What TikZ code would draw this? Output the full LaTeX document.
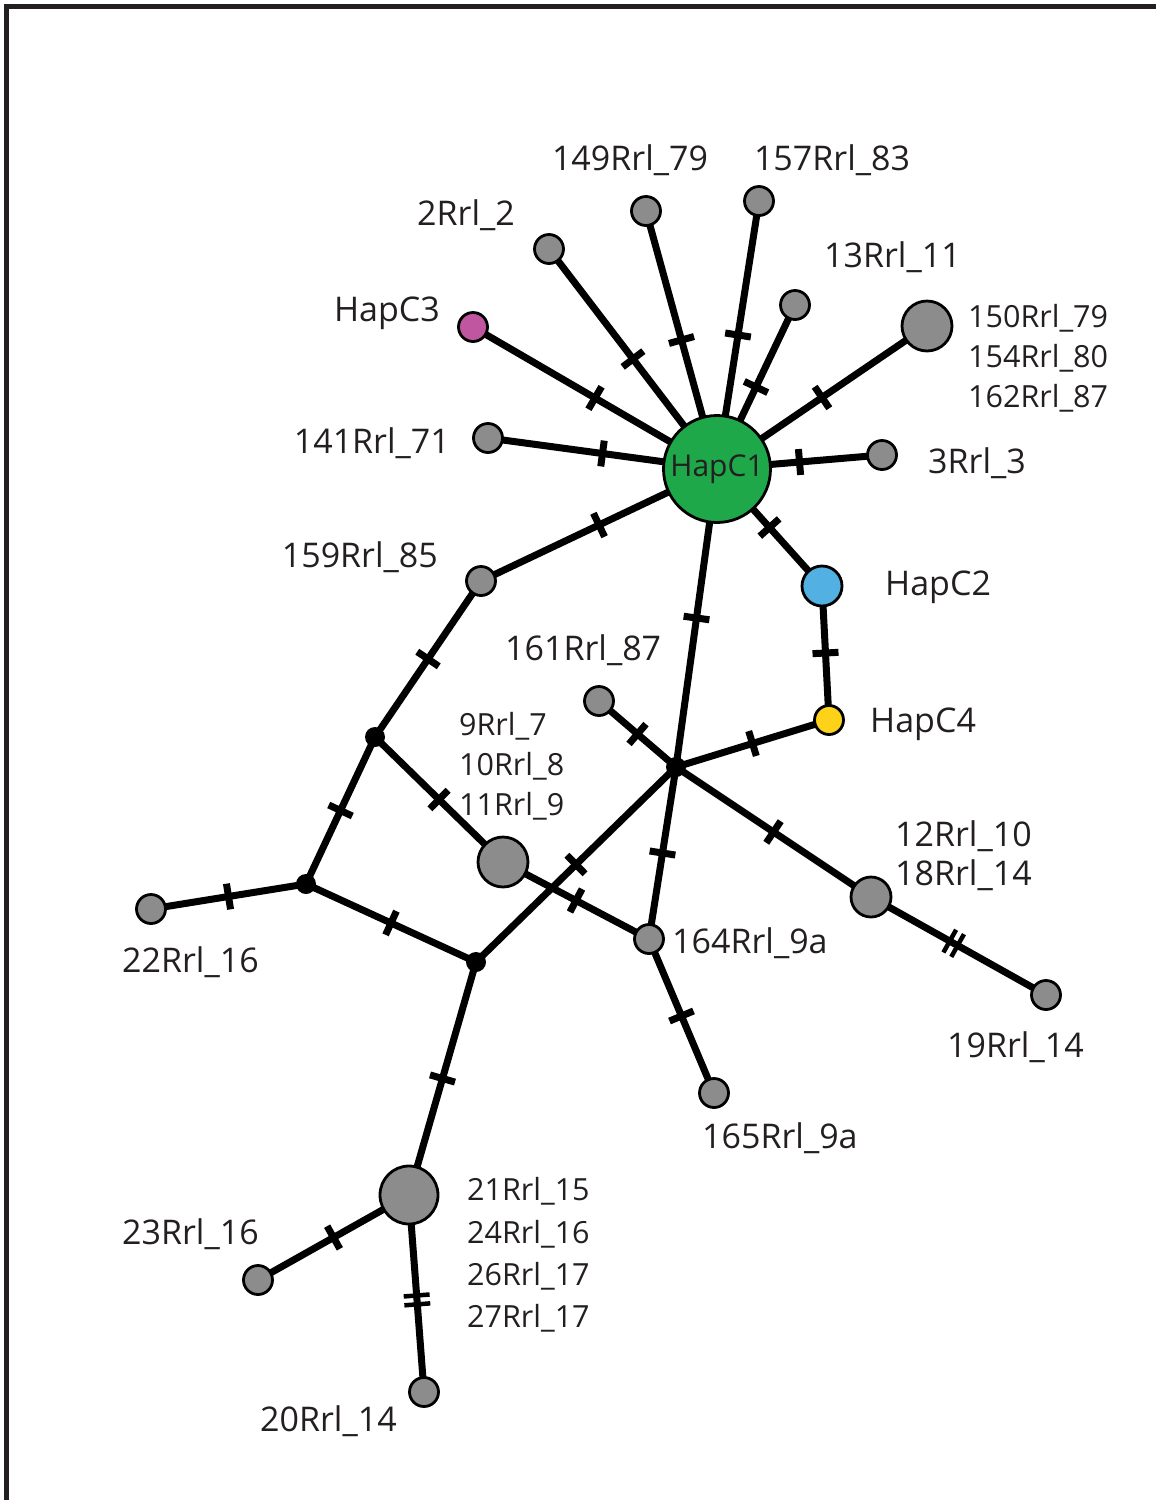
\documentclass[tikz,border=0pt]{standalone}
\usepackage{fontspec}
\setmainfont{Open Sans}
\usetikzlibrary{backgrounds}

\definecolor{hapgreen}{HTML}{1FA84A}
\definecolor{hapblue}{HTML}{52B0E2}
\definecolor{hapyellow}{HTML}{FFD21A}
\definecolor{hapmagenta}{HTML}{C0569F}
\definecolor{hapgray}{HTML}{8C8C8C}
\definecolor{ink}{HTML}{231F20}

\tikzset{
  hap/.style={circle, draw=black, line width=2.8pt, fill=#1, inner sep=0pt, minimum size=29pt},
  median/.style={circle, fill=black, inner sep=0pt, minimum size=20pt},
  link/.style={line width=7pt, draw=black},
  mutbar/.style={sloped, fill=black, inner sep=0pt, minimum width=7pt, minimum height=26pt},
  mutbarthin/.style={mutbar, minimum width=4.5pt},
  lbl/.style={font=\fontsize{34}{40}\selectfont, text=ink, inner sep=0pt},
  lblsm/.style={lbl, font=\fontsize{30.5}{36}\selectfont},
}

\begin{document}
\begin{tikzpicture}[x=1pt, y=-1pt]
\useasboundingbox (0,0) rectangle (1156,1500);
\draw[line width=5.5pt, ink, line join=miter] (6.5,1500) -- (6.5,6.5) -- (1156,6.5);

% haplotypes
\node[hap=hapgreen, minimum size=107pt, font=\fontsize{30}{36}\selectfont, text=ink] (hc1) at (717,469) {HapC1};
\node[hap=hapblue, minimum size=40pt] (hc2) at (822,586) {};
\node[hap=hapmagenta] (hc3) at (473,327) {};
\node[hap=hapyellow] (hc4) at (829,720) {};
\node[hap=hapgray] (n2) at (549,249) {};
\node[hap=hapgray] (n149) at (646,211) {};
\node[hap=hapgray] (n157) at (759,201) {};
\node[hap=hapgray] (n13) at (795,305) {};
\node[hap=hapgray, minimum size=50pt] (g150) at (927,326) {};
\node[hap=hapgray] (n141) at (488,438) {};
\node[hap=hapgray] (n3) at (882,455) {};
\node[hap=hapgray] (n159) at (481,581) {};
\node[hap=hapgray] (n161) at (599,701) {};
\node[hap=hapgray, minimum size=50pt] (g9) at (503,862) {};
\node[hap=hapgray] (n164) at (649,939) {};
\node[hap=hapgray, minimum size=40pt] (g12) at (871,897) {};
\node[hap=hapgray] (n19) at (1046,995) {};
\node[hap=hapgray] (n22) at (151,909) {};
\node[hap=hapgray] (n165) at (714,1093) {};
\node[hap=hapgray, minimum size=58pt] (g21) at (409,1195) {};
\node[hap=hapgray] (n23) at (258,1280) {};
\node[hap=hapgray] (n20) at (424,1392) {};

% median vectors
\node[median] (m1) at (375,737) {};
\node[median] (m2) at (676,767) {};
\node[median] (m3) at (306,884) {};
\node[median] (m4) at (476,962) {};

% links, one mutation each
\begin{scope}[on background layer]
\foreach \a/\b in {hc1/hc3, hc1/n2, hc1/n149, hc1/n157, hc1/n13, hc1/g150, hc1/n141,
    hc1/n3, hc1/n159, hc1/hc2, hc1/m2, hc2/hc4, hc4/m2, n161/m2, m2/g12, m2/m4,
    m2/n164, n159/m1, m1/g9, m1/m3, g9/n164, n164/n165, m3/n22, m3/m4, m4/g21, g21/n23}
  \draw[link] (\a.center) -- node[mutbar] {} (\b.center);
% two mutations
\foreach \a/\b/\p/\q in {g12/n19/0.45/0.495, g21/n20/0.51/0.555}
  \draw[link] (\a.center) -- node[mutbarthin, pos=\p] {} node[mutbarthin, pos=\q] {} (\b.center);
\end{scope}

% labels
\node[lbl, anchor=base] (l149) at (630,170) {149Rrl\_79};
\node[lbl, anchor=base] (l157) at (832,170) {157Rrl\_83};
\node[lbl, anchor=base east] (l2) at (515,225) {2Rrl\_2};
\node[lbl, anchor=base west] (l13) at (824,267) {13Rrl\_11};
\node[lbl, anchor=base east] (lhc3) at (440,321) {HapC3};
\node[lblsm, anchor=base west] (l150) at (968,327) {150Rrl\_79};
\node[lblsm, anchor=base west] (l154) at (968,367) {154Rrl\_80};
\node[lblsm, anchor=base west] (l162) at (968,407) {162Rrl\_87};
\node[lbl, anchor=base east] (l141) at (450,453) {141Rrl\_71};
\node[lbl, anchor=base west] (l3) at (928,473) {3Rrl\_3};
\node[lbl, anchor=base east] (l159) at (438,567) {159Rrl\_85};
\node[lbl, anchor=base west] (lhc2) at (885,595) {HapC2};
\node[lbl, anchor=base west] (l161) at (505,660) {161Rrl\_87};
\node[lbl, anchor=base west] (lhc4) at (870,732) {HapC4};
\node[lblsm, anchor=base west] (l9) at (459,735) {9Rrl\_7};
\node[lblsm, anchor=base west] (l10) at (459,775) {10Rrl\_8};
\node[lblsm, anchor=base west] (l11) at (459,815) {11Rrl\_9};
\node[lbl, anchor=base west] (l12) at (895,846) {12Rrl\_10};
\node[lbl, anchor=base west] (l18) at (895,885) {18Rrl\_14};
\node[lbl, anchor=base west] (l164) at (672,953) {164Rrl\_9a};
\node[lbl, anchor=base west] (l22) at (122,972) {22Rrl\_16};
\node[lbl, anchor=base west] (l19) at (947,1057) {19Rrl\_14};
\node[lbl, anchor=base west] (l165) at (702,1148) {165Rrl\_9a};
\node[lblsm, anchor=base west] (l21) at (467,1200) {21Rrl\_15};
\node[lblsm, anchor=base west] (l24) at (467,1243) {24Rrl\_16};
\node[lblsm, anchor=base west] (l26) at (467,1285) {26Rrl\_17};
\node[lblsm, anchor=base west] (l27) at (467,1327) {27Rrl\_17};
\node[lbl, anchor=base west] (l23) at (122,1244) {23Rrl\_16};
\node[lbl, anchor=base west] (l20) at (260,1431) {20Rrl\_14};
\end{tikzpicture}
\end{document}
